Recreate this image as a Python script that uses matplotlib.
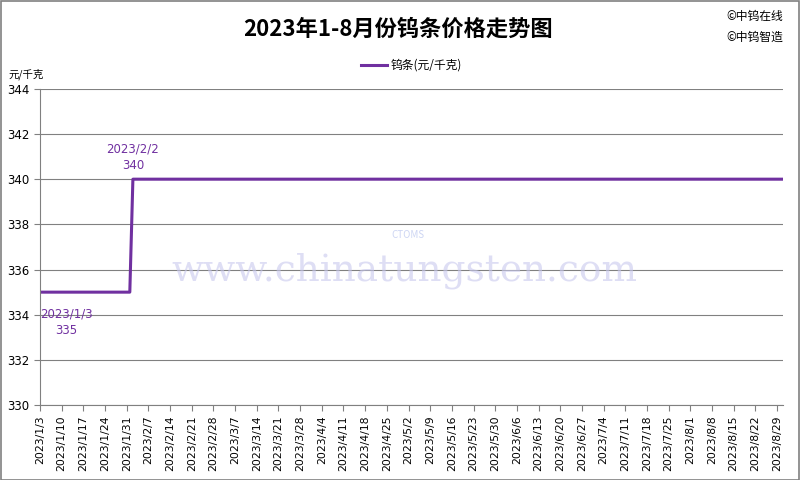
import pandas as pd
import matplotlib.pyplot as plt

plt.rcParams['font.family'] = ['Noto Sans CJK SC', 'DejaVu Sans']

dates = pd.to_datetime(["2023-01-03", "2023-02-01", "2023-02-02", "2023-08-31"])
prices = [335, 335, 340, 340]
tick_dates = pd.date_range("2023-01-03", "2023-08-29", freq="7D")
tick_labels = [f"{d.year}/{d.month}/{d.day}" for d in tick_dates]

purple = "#7030A0"

fig = plt.figure(figsize=(8, 4.8), dpi=100)
ax = fig.add_axes([0.05, 0.156, 0.929, 0.659])

ax.plot(dates, prices, color=purple, lw=2.2, label="钨条(元/千克)")

ax.set_xlim(pd.Timestamp("2023-01-03"), pd.Timestamp("2023-08-31"))
ax.set_ylim(330, 344)
ax.set_yticks(range(330, 345, 2))
ax.set_xticks(tick_dates)
ax.set_xticklabels(tick_labels, rotation=90, fontsize=7.8, family='DejaVu Sans')
ax.tick_params(axis='y', labelsize=8.5, length=4, color='#808080')
ax.tick_params(axis='x', length=4, color='#808080')
for lbl in ax.get_yticklabels():
    lbl.set_family('DejaVu Sans')
ax.grid(axis='y', color='#808080', lw=0.8)
ax.set_axisbelow(True)
for s in ['top', 'right']:
    ax.spines[s].set_visible(False)
for s in ['left', 'bottom']:
    ax.spines[s].set_color('#808080')

# watermark
fig.text(0.505, 0.435, "www.chinatungsten.com", ha='center', va='center', fontsize=27,
         family='DejaVu Serif', color='#c8c8ee', alpha=0.6, zorder=0)
fig.text(0.51, 0.51, "CTOMS", ha='center', va='center', fontsize=7, style='italic',
         color='#b8c4ee', alpha=0.7, zorder=0)

ax.annotate("2023/1/3\n335", xy=(dates[0], prices[0]), xytext=(0, -11),
            textcoords='offset points', ha='left', va='top', fontsize=8.5,
            color=purple, family='DejaVu Sans', linespacing=1.4, multialignment='center')
ax.annotate("2023/2/2\n340", xy=(dates[2], prices[2]), xytext=(0, 5),
            textcoords='offset points', ha='center', va='bottom', fontsize=8.5,
            color=purple, family='DejaVu Sans', linespacing=1.4, multialignment='center')

fig.text(0.497, 0.94, "2023年1-8月份钨条价格走势图", ha='center', va='center',
         fontsize=16, fontweight='bold')
fig.text(0.908, 0.965, "©中钨在线", fontsize=8.5, va='center')
fig.text(0.908, 0.922, "©中钨智造", fontsize=8.5, va='center')
fig.text(0.01, 0.845, "元/千克", fontsize=7.5, va='center')

ax.legend(loc='lower center', bbox_to_anchor=(0.5, 1.02), frameon=False,
          fontsize=8.5, handlelength=2.2, handletextpad=0.3)

fig.patches.append(plt.Rectangle((0.001, 0.001), 0.998, 0.997, transform=fig.transFigure,
                                 fill=False, edgecolor='#808080', lw=1.2))

fig.savefig("out.png", dpi=100)
